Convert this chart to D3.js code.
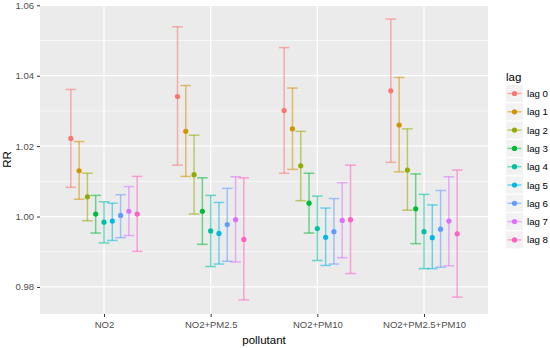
<!DOCTYPE html>
<meta charset="utf-8">
<style>
body { margin: 0; background: #fff; }
text { font-family: "Liberation Sans", Arial, sans-serif; }
.axis text { fill: #4d4d4d; font-size: 9.5px; }
.axis line { stroke: #333; }
.axis path { display: none; }
</style>
<svg width="550" height="348"></svg>
<script src="https://d3js.org/d3.v7.min.js"></script>
<script>

var pollutants = ["NO2", "NO2+PM2.5", "NO2+PM10", "NO2+PM2.5+PM10"];
var lags = ["lag 0", "lag 1", "lag 2", "lag 3", "lag 4", "lag 5", "lag 6", "lag 7", "lag 8"];
var lagColors = ["#F8766D", "#D39200", "#93AA00", "#00BA38", "#00C19F", "#00B9E3", "#619CFF", "#DB72FB", "#FF61C3"];
var yTicks = [0.98, 1.00, 1.02, 1.04, 1.06];

// one row per pollutant, one value per lag
var rr = [
  [1.0222, 1.0130, 1.0056, 1.0007, 0.9984, 0.9987, 1.0003, 1.0015, 1.0007],
  [1.0341, 1.0242, 1.0119, 1.0015, 0.9959, 0.9952, 0.9977, 0.9991, 0.9935],
  [1.0301, 1.0249, 1.0144, 1.0038, 0.9966, 0.9941, 0.9957, 0.9989, 0.9991],
  [1.0357, 1.0260, 1.0132, 1.0022, 0.9957, 0.9940, 0.9964, 0.9987, 0.9951]
];
var lower = [
  [1.0083, 1.0049, 0.9988, 0.9953, 0.9925, 0.9932, 0.9940, 0.9946, 0.9901],
  [1.0146, 1.0114, 1.0007, 0.9921, 0.9858, 0.9865, 0.9873, 0.9871, 0.9763],
  [1.0123, 1.0134, 1.0045, 0.9953, 0.9875, 0.9861, 0.9865, 0.9883, 0.9838],
  [1.0154, 1.0127, 1.0018, 0.9923, 0.9852, 0.9852, 0.9856, 0.9860, 0.9771]
];
var upper = [
  [1.0361, 1.0213, 1.0123, 1.0060, 1.0042, 1.0038, 1.0062, 1.0085, 1.0114],
  [1.0539, 1.0372, 1.0231, 1.0110, 1.0060, 1.0040, 1.0080, 1.0113, 1.0110],
  [1.0480, 1.0365, 1.0242, 1.0123, 1.0058, 1.0024, 1.0051, 1.0096, 1.0146],
  [1.0561, 1.0395, 1.0249, 1.0121, 1.0063, 1.0033, 1.0074, 1.0113, 1.0132]
];

var svg = d3.select("svg"),
    margin = {top: 5, right: 62, bottom: 34, left: 40},
    width = +svg.attr("width") - margin.left - margin.right,
    height = +svg.attr("height") - margin.top - margin.bottom;

var data = [];
pollutants.forEach(function(p, i) {
  lags.forEach(function(l, j) {
    data.push({pollutant: p, lag: l, rr: rr[i][j], lo: lower[i][j], hi: upper[i][j], color: lagColors[j]});
  });
});

var x = d3.scalePoint().domain(pollutants).range([0, width]).padding(0.6);
var step = x.step();
var dodge = d3.scaleBand().domain(lags).range([-0.35 * step, 0.35 * step]);

var yMin = d3.min(data, function(d) { return d.lo; }),
    yMax = d3.max(data, function(d) { return d.hi; }),
    pad = (yMax - yMin) * 0.05;
var y = d3.scaleLinear().domain([yMin - pad, yMax + pad]).range([height, 0]);

var g = svg.append("g")
    .attr("transform", "translate(" + margin.left + "," + margin.top + ")");

// panel
g.append("rect")
    .attr("width", width)
    .attr("height", height)
    .attr("fill", "#ebebeb");

// minor grid
var minor = d3.range(0.97, 1.065, 0.02).filter(function(v) { return v > y.domain()[0] && v < y.domain()[1]; });
g.selectAll(".minor")
  .data(minor)
  .enter().append("line")
    .attr("x1", 0).attr("x2", width)
    .attr("y1", function(d) { return y(d); })
    .attr("y2", function(d) { return y(d); })
    .attr("stroke", "#fff")
    .attr("stroke-width", 0.6);

// major grid
g.selectAll(".hmajor")
  .data(yTicks)
  .enter().append("line")
    .attr("x1", 0).attr("x2", width)
    .attr("y1", function(d) { return y(d); })
    .attr("y2", function(d) { return y(d); })
    .attr("stroke", "#fff")
    .attr("stroke-width", 1.2);

g.selectAll(".vmajor")
  .data(pollutants)
  .enter().append("line")
    .attr("y1", 0).attr("y2", height)
    .attr("x1", function(d) { return x(d); })
    .attr("x2", function(d) { return x(d); })
    .attr("stroke", "#fff")
    .attr("stroke-width", 1.2);

// axes
g.append("g")
    .attr("class", "axis")
    .attr("transform", "translate(0," + height + ")")
    .call(d3.axisBottom(x).tickSize(3).tickPadding(4));

g.append("g")
    .attr("class", "axis")
    .call(d3.axisLeft(y).tickValues(yTicks).tickFormat(d3.format(".2f")).tickSize(3).tickPadding(3));

svg.append("text")
    .attr("x", margin.left + width / 2)
    .attr("y", 344)
    .attr("text-anchor", "middle")
    .attr("font-size", 11.5)
    .attr("fill", "#000")
    .text("pollutant");

svg.append("text")
    .attr("transform", "translate(11," + (margin.top + height / 2) + ") rotate(-90)")
    .attr("text-anchor", "middle")
    .attr("font-size", 11.5)
    .attr("fill", "#000")
    .text("RR");

// error bars
var capW = 0.1 * step;
var bars = g.selectAll(".eb")
  .data(data)
  .enter().append("g")
    .attr("transform", function(d) { return "translate(" + (x(d.pollutant) + dodge(d.lag) + dodge.bandwidth() / 2) + ",0)"; })
    .attr("stroke", function(d) { return d.color; })
    .attr("stroke-opacity", 0.55)
    .attr("stroke-width", 1.5);

bars.append("line")
    .attr("y1", function(d) { return y(d.lo); })
    .attr("y2", function(d) { return y(d.hi); });
bars.append("line")
    .attr("x1", -capW / 2).attr("x2", capW / 2)
    .attr("y1", function(d) { return y(d.hi); })
    .attr("y2", function(d) { return y(d.hi); });
bars.append("line")
    .attr("x1", -capW / 2).attr("x2", capW / 2)
    .attr("y1", function(d) { return y(d.lo); })
    .attr("y2", function(d) { return y(d.lo); });

g.selectAll(".pt")
  .data(data)
  .enter().append("circle")
    .attr("cx", function(d) { return x(d.pollutant) + dodge(d.lag) + dodge.bandwidth() / 2; })
    .attr("cy", function(d) { return y(d.rr); })
    .attr("r", 2.6)
    .attr("fill", function(d) { return d.color; });

// legend
var legend = svg.append("g").attr("transform", "translate(506,0)");
legend.append("text")
    .attr("x", 0).attr("y", 81)
    .attr("font-size", 11.5)
    .attr("fill", "#000")
    .text("lag");

var key = legend.selectAll(".key")
  .data(lags)
  .enter().append("g")
    .attr("transform", function(d, i) { return "translate(0," + (85 + i * 18.3) + ")"; });

key.append("rect")
    .attr("width", 17).attr("height", 17)
    .attr("fill", "#f2f2f2");
key.append("line")
    .attr("x1", 1.5).attr("x2", 15.5)
    .attr("y1", 8.5).attr("y2", 8.5)
    .attr("stroke", function(d, i) { return lagColors[i]; })
    .attr("stroke-opacity", 0.55)
    .attr("stroke-width", 1.5);
key.append("circle")
    .attr("cx", 8.5).attr("cy", 8.5).attr("r", 2.6)
    .attr("fill", function(d, i) { return lagColors[i]; });
key.append("text")
    .attr("x", 21).attr("y", 12)
    .attr("font-size", 9.7)
    .attr("fill", "#000")
    .text(function(d) { return d; });

</script>
